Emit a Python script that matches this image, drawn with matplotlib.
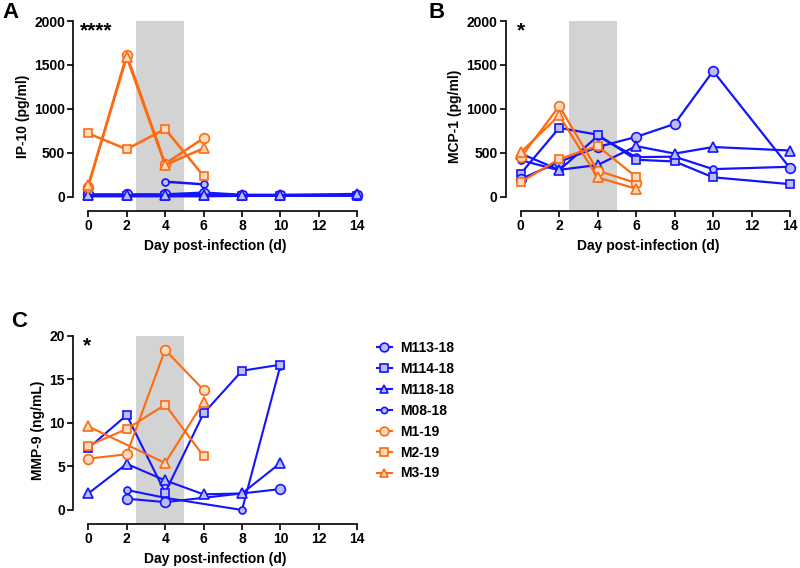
import numpy as np
import matplotlib
matplotlib.use("Agg")
import matplotlib.pyplot as plt

plt.rcParams["font.family"] = ["Liberation Sans", "DejaVu Sans"]
plt.rcParams["font.weight"] = "bold"

nan = np.nan
days = [0, 2, 4, 6, 8, 10, 14]
names = ["M113-18", "M114-18", "M118-18", "M08-18", "M1-19", "M2-19", "M3-19"]

# IP-10 (pg/ml)
ip10 = {
    "M113-18": [25, 25, 25, 45, 20, 20, 20],
    "M114-18": [5, 5, 5, 5, 10, 10, 10],
    "M118-18": [15, 15, 15, 20, 15, 15, 30],
    "M08-18":  [nan, nan, 170, 140, nan, nan, nan],
    "M1-19":   [115, 1615, 375, 665, nan, nan, nan],
    "M2-19":   [720, 540, 770, 235, nan, nan, nan],
    "M3-19":   [130, 1590, 360, 550, nan, nan, nan],
}

# MCP-1 (pg/ml)
mcp1 = {
    "M113-18": [200, 395, 565, 680, 828, 1430, 325],
    "M114-18": [262, 783, 705, 420, 400, 220, 142],
    "M118-18": [490, 305, 360, 575, 490, 565, 525],
    "M08-18":  [415, 300, 690, 450, 455, 313, 340],
    "M1-19":   [447, 1030, 295, 155, nan, nan, nan],
    "M2-19":   [165, 428, 575, 225, nan, nan, nan],
    "M3-19":   [505, 924, 218, 90, nan, nan, nan],
}

# MMP-9 (ng/mL)
mmp9 = {
    "M113-18": [nan, 1.3, 0.9, nan, nan, 2.4, nan],
    "M114-18": [7.1, 10.9, 2.0, 11.1, 16.0, 16.7, nan],
    "M118-18": [1.9, 5.3, 3.4, 1.8, 1.9, 5.4, nan],
    "M08-18":  [nan, 2.3, 1.4, nan, 0.0, 16.6, nan],
    "M1-19":   [5.9, 6.4, 18.4, 13.8, nan, nan, nan],
    "M2-19":   [7.4, 9.3, 12.1, 6.2, nan, nan, nan],
    "M3-19":   [9.6, nan, 5.4, 12.4, nan, nan, nan],
}

blue, blue_face = "#1414FF", "#BCBCF6"
orange, orange_face = "#FF6A10", "#FDDCC2"
style = {
    "M113-18": (blue, blue_face, "o", 7.0, 3),
    "M114-18": (blue, blue_face, "s", 6.4, 2),
    "M118-18": (blue, blue_face, "^", 7.0, 4),
    "M08-18":  (blue, blue_face, "o", 5.0, 1),
    "M1-19":   (orange, orange_face, "o", 7.0, 5),
    "M2-19":   (orange, orange_face, "s", 6.4, 5),
    "M3-19":   (orange, orange_face, "^", 7.0, 5),
}


def panel(ax, data, ymin, ymax, yticks, ylabel, stars, star_x, lw):
    ax.axvspan(2.5, 5, color="#D3D3D3", lw=0, zorder=0)
    x = np.array(days, dtype=float)
    for name in names:
        y = np.array(data[name], dtype=float)
        m = ~np.isnan(y)
        c, fc, mk, ms, z = style[name]
        ax.plot(x[m], y[m], color=c, marker=mk, ms=ms, mfc=fc, mec=c,
                mew=1.2, lw=lw, clip_on=False, zorder=z, label=name)
    ax.set_xlim(-0.78, 14)
    ax.set_ylim(ymin, ymax)
    ax.spines["top"].set_visible(False)
    ax.spines["right"].set_visible(False)
    ax.spines["left"].set_bounds(0, ymax)
    ax.spines["bottom"].set_bounds(0, 14)
    for s in ("left", "bottom"):
        ax.spines[s].set_linewidth(1.2)
    ax.set_xticks(range(0, 15, 2))
    ax.set_yticks(yticks)
    ax.tick_params(width=1.2, length=4, labelsize=10, pad=2)
    for t in ax.get_xticklabels() + ax.get_yticklabels():
        t.set_fontweight("bold")
    ax.set_xlabel("Day post-infection (d)", fontsize=10, fontweight="bold", labelpad=4)
    ax.set_ylabel(ylabel, fontsize=10, fontweight="bold", labelpad=3)
    ax.text(star_x, ymax * 1.0, stars, fontsize=15, fontweight="bold", va="top", ha="left")


fig = plt.figure(figsize=(8, 5.68), dpi=100)
ax_a = fig.add_axes([0.0916, 0.6285, 0.3550, 0.3345])
ax_b = fig.add_axes([0.6322, 0.6285, 0.3553, 0.3345])
ax_c = fig.add_axes([0.0916, 0.0775, 0.3550, 0.3310])

panel(ax_a, ip10, -164, 2000, [0, 500, 1000, 1500, 2000], "IP-10 (pg/ml)", "****", -0.45, 1.8)
panel(ax_b, mcp1, -164, 2000, [0, 500, 1000, 1500, 2000], "MCP-1 (pg/ml)", "*", -0.2, 1.6)
panel(ax_c, mmp9, -1.61, 20, [0, 5, 10, 15, 20], "MMP-9 (ng/mL)", "*", -0.3, 1.5)

fig.text(0.003, 0.997, "A", fontsize=16, fontweight="bold", va="top")
fig.text(0.535, 0.997, "B", fontsize=16, fontweight="bold", va="top")
fig.text(0.014, 0.452, "C", fontsize=16, fontweight="bold", va="top")

handles, labels = ax_c.get_legend_handles_labels()
fig.legend(handles, labels, loc="upper left", bbox_to_anchor=(0.471, 0.400),
           frameon=False, handlelength=1.1, handletextpad=0.6,
           labelspacing=0.5, borderpad=0, borderaxespad=0, markerscale=0.9,
           prop={"weight": "bold", "size": 10})

fig.savefig("out.png", dpi=100)
